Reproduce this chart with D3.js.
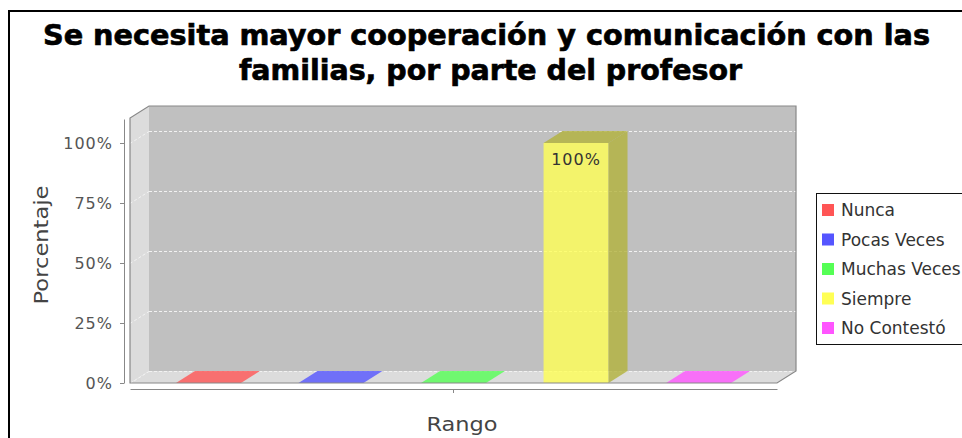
<!DOCTYPE html>
<html>
<head>
<meta charset="utf-8">
<script src="https://cdn.jsdelivr.net/npm/d3@7"></script>
<style>
  html, body { margin: 0; padding: 0; background: #fff; }
  svg { display: block; }
</style>
</head>
<body>
<svg id="chart" width="962" height="438"></svg>
<script>
// Survey answers: share of respondents per answer range
const titleLines = [
  "Se necesita mayor cooperación y comunicación con las",
  "familias, por parte del profesor"
];
const categories = ["Nunca", "Pocas Veces", "Muchas Veces", "Siempre", "No Contestó"];
const values = [0, 0, 0, 1.0, 0];
const seriesColors = ["#FF5555", "#5555FF", "#55FF55", "#FFFF55", "#FF55FF"];
const yTicks = [0, 0.25, 0.5, 0.75, 1.0];
const yLabel = "Porcentaje";
const xLabel = "Rango";

const svg = d3.select("#chart");

// 3D depth offset of the plot box
const DX = 19, DY = 12;
// front plane of the plot
const plotLeft = 130, plotRight = 777, plotTop = 118, plotBottom = 383;

const y = d3.scaleLinear().domain([0, 1.1]).range([plotBottom, plotTop + 1]);
const x = d3.scaleBand().domain(categories)
  .range([plotLeft, plotRight])
  .paddingInner(0.47).paddingOuter(0.375).align(0.5);

const fmtPct = d3.format(".0%");
const javaDarker = c => {
  const k = d3.rgb(c);
  return d3.rgb(Math.floor(k.r * 0.7), Math.floor(k.g * 0.7), Math.floor(k.b * 0.7)).formatHex();
};

// Outer chart border
svg.append("rect").attr("x", 9).attr("y", 11).attr("width", 1000).attr("height", 600)
  .attr("fill", "#fff").attr("stroke", "#000").attr("stroke-width", 2);

// Title
const titleG = svg.append("g")
  .attr("font-family", "'DejaVu Sans Condensed', 'DejaVu Sans', sans-serif")
  .attr("font-weight", "bold").attr("font-size", 28).attr("fill", "#000")
  .attr("stroke", "#000").attr("stroke-width", 0.6);
const titleSpec = [{ cx: 486.5, base: 45, len: 887 }, { cx: 490.5, base: 80, len: 503 }];
titleLines.forEach((t, i) => {
  titleG.append("text")
    .attr("x", titleSpec[i].cx).attr("y", titleSpec[i].base)
    .attr("text-anchor", "middle")
    .attr("textLength", titleSpec[i].len).attr("lengthAdjust", "spacingAndGlyphs")
    .text(t);
});

// Plot walls
const wallFill = "#DCDCDC";
const backFill = "#C0C0C0";
svg.append("rect")
  .attr("x", plotLeft + DX).attr("y", plotTop - DY)
  .attr("width", plotRight - plotLeft).attr("height", plotBottom - plotTop)
  .attr("fill", backFill);
svg.append("polygon")
  .attr("points", [[plotLeft, plotTop], [plotLeft + DX, plotTop - DY], [plotLeft + DX, plotBottom - DY], [plotLeft, plotBottom]].join(" "))
  .attr("fill", wallFill);
svg.append("polygon")
  .attr("points", [[plotLeft, plotBottom], [plotLeft + DX, plotBottom - DY], [plotRight + DX, plotBottom - DY], [plotRight, plotBottom]].join(" "))
  .attr("fill", wallFill);

// Gridlines (back wall + slanted part on the left wall)
const grid = svg.append("g").attr("stroke", "#F2F2F2").attr("stroke-width", 1)
  .attr("stroke-dasharray", "3,2").attr("fill", "none");
yTicks.forEach(v => {
  const yy = Math.round(y(v)) + 0.5;
  grid.append("line").attr("x1", plotLeft + DX).attr("x2", plotRight + DX)
    .attr("y1", yy - DY).attr("y2", yy - DY);
  grid.append("line").attr("x1", plotLeft).attr("x2", plotLeft + DX)
    .attr("y1", yy).attr("y2", yy - DY);
});

// Bars
const bars = svg.append("g").attr("fill-opacity", 0.8);
categories.forEach((c, i) => {
  const x0 = x(c), x1 = x(c) + x.bandwidth();
  const y0 = y(0), y1 = y(values[i]);
  const base = seriesColors[i];
  const dark = javaDarker(base);
  const g = bars.append("g");
  if (values[i] > 0) {
    g.append("rect").attr("x", x0).attr("y", y1).attr("width", x1 - x0).attr("height", y0 - y1)
      .attr("fill", base);
    g.append("polygon")
      .attr("points", [[x1, y1], [x1 + DX, y1 - DY], [x1 + DX, y0 - DY], [x1, y0]].join(" "))
      .attr("fill", dark);
    g.append("polygon")
      .attr("points", [[x0, y1], [x0 + DX, y1 - DY], [x1 + DX, y1 - DY], [x1, y1]].join(" "))
      .attr("fill", dark);
  } else {
    g.append("polygon")
      .attr("points", [[x0, y0], [x0 + DX, y0 - DY], [x1 + DX, y0 - DY], [x1, y0]].join(" "))
      .attr("fill", base);
  }
});

// Plot outline
svg.append("path")
  .attr("d", d3.line()([
    [plotLeft, plotBottom], [plotLeft, plotTop], [plotLeft + DX, plotTop - DY],
    [plotRight + DX, plotTop - DY], [plotRight + DX, plotBottom - DY], [plotRight, plotBottom]
  ]) + "Z")
  .attr("fill", "none").attr("stroke", "#888").attr("stroke-width", 1.2);

// Value labels
categories.forEach((c, i) => {
  if (values[i] <= 0) return;
  svg.append("text")
    .attr("x", x(c) + x.bandwidth() / 2).attr("y", y(values[i]) + 22)
    .attr("text-anchor", "middle")
    .attr("font-family", "'DejaVu Sans', sans-serif").attr("font-size", 16)
    .attr("letter-spacing", 1).attr("fill", "#333")
    .text(fmtPct(values[i]));
});

// Y axis
const yAxisG = svg.append("g").attr("transform", "translate(124,0)")
  .call(d3.axisLeft(y).tickValues(yTicks).tickFormat(fmtPct).tickSize(4).tickSizeOuter(0).tickPadding(7));
yAxisG.select(".domain").attr("stroke", "#888");
yAxisG.selectAll(".tick line").attr("stroke", "#888");
yAxisG.selectAll(".tick text")
  .attr("font-family", "'DejaVu Sans', sans-serif").attr("font-size", 16)
  .attr("letter-spacing", 1).attr("fill", "#555").attr("dy", "0.36em");

// X axis: a single category spanning the whole range
const xAxisScale = d3.scaleBand().domain([xLabel]).range([plotLeft, plotRight]);
const xAxisG = svg.append("g").attr("transform", "translate(0,389)")
  .call(d3.axisBottom(xAxisScale).tickSize(4).tickSizeOuter(0).tickFormat(""));
xAxisG.select(".domain").attr("stroke", "#888");
xAxisG.selectAll(".tick line").attr("stroke", "#888");

// Axis titles
svg.append("text")
  .attr("x", 462).attr("y", 431).attr("text-anchor", "middle")
  .attr("font-family", "'DejaVu Sans', sans-serif").attr("font-size", 20)
  .attr("textLength", 71).attr("lengthAdjust", "spacingAndGlyphs")
  .attr("fill", "#444").text(xLabel);
svg.append("text")
  .attr("transform", "translate(48,245) rotate(-90)").attr("text-anchor", "middle")
  .attr("font-family", "'DejaVu Sans', sans-serif").attr("font-size", 19)
  .attr("textLength", 119).attr("lengthAdjust", "spacingAndGlyphs")
  .attr("fill", "#444").text(yLabel);

// Legend
const legend = svg.append("g").attr("transform", "translate(816,193)");
legend.append("rect").attr("x", 0.5).attr("y", 0.5).attr("width", 170).attr("height", 151)
  .attr("fill", "#fff").attr("stroke", "#111").attr("stroke-width", 1);
categories.forEach((c, i) => {
  const cy = 17 + i * 29.5;
  legend.append("rect").attr("x", 6).attr("y", cy - 6).attr("width", 12).attr("height", 12)
    .attr("fill", seriesColors[i]);
  legend.append("text").attr("x", 25).attr("y", cy).attr("dy", "0.36em")
    .attr("font-family", "'DejaVu Sans', sans-serif").attr("font-size", 17)
    .attr("fill", "#333").text(c);
});
</script>
</body>
</html>
